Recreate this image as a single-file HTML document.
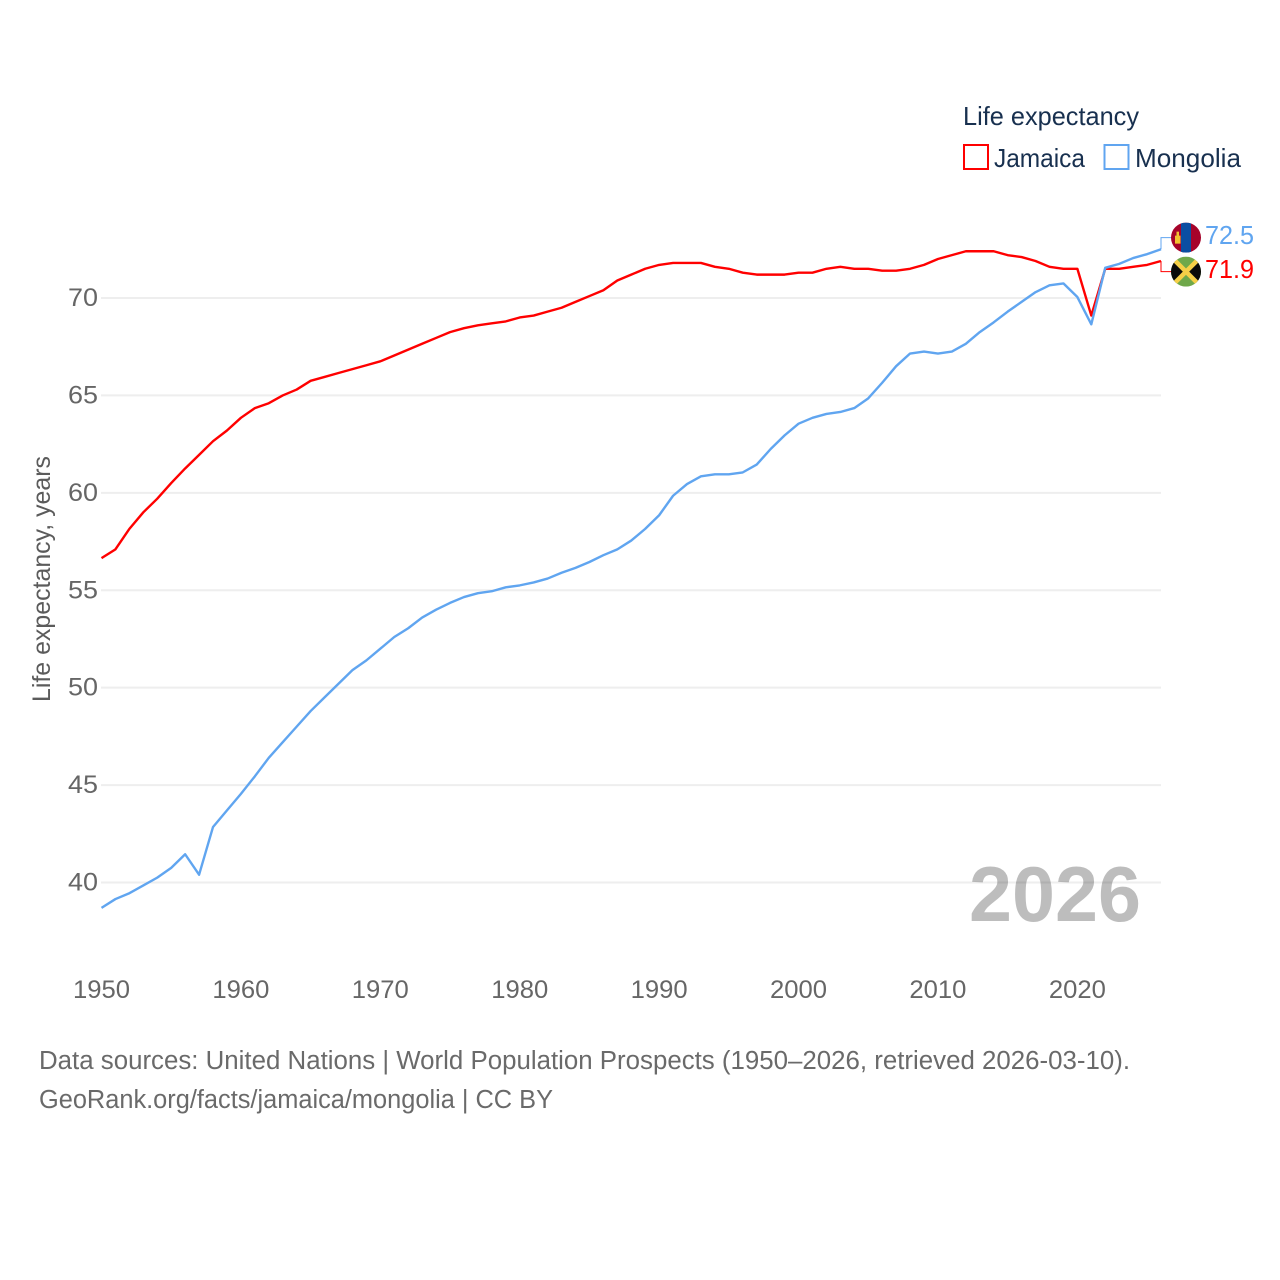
<!DOCTYPE html>
<html>
<head>
<meta charset="utf-8">
<title>Life expectancy: Jamaica vs Mongolia</title>
<style>
html,body{margin:0;padding:0;background:#fff;}
svg{display:block;}
text{font-family:"Liberation Sans",sans-serif;}
</style>
</head>
<body>
<svg id="chart" xmlns="http://www.w3.org/2000/svg" width="1280" height="1280" viewBox="0 0 1280 1280">
  <rect x="0" y="0" width="1280" height="1280" fill="#fff"/>
  <g id="grid"></g>
  <g id="ylabels"></g>
  <g id="xlabels"></g>
  <text transform="translate(50,702) rotate(-90)" font-size="25" fill="#5b5b5b" textLength="246" lengthAdjust="spacingAndGlyphs">Life expectancy, years</text>
  <text x="969" y="921" font-size="78" font-weight="bold" fill="#000" fill-opacity="0.26" textLength="172" lengthAdjust="spacingAndGlyphs">2026</text>
  <g id="series"></g>
  <g id="ends"></g>

  <g>
    <text x="963" y="125" font-size="26" fill="#18304f" textLength="176" lengthAdjust="spacingAndGlyphs">Life expectancy</text>
    <g>
      <rect x="964" y="145" width="24" height="24" fill="#fff" stroke="#ff0000" stroke-width="2"/>
      <text x="994" y="167" font-size="26" fill="#18304f" textLength="91" lengthAdjust="spacingAndGlyphs">Jamaica</text>
    </g>
    <g>
      <rect x="1104.5" y="145" width="24" height="24" fill="#fff" stroke="#60a5f0" stroke-width="2"/>
      <text x="1135" y="167" font-size="26" fill="#18304f" textLength="106" lengthAdjust="spacingAndGlyphs">Mongolia</text>
    </g>
  </g>

  <text x="39" y="1069" font-size="25.5" fill="#6a6a6a" textLength="1091" lengthAdjust="spacingAndGlyphs">Data sources: United Nations | World Population Prospects (1950–2026, retrieved 2026-03-10).</text>
  <text x="39" y="1108" font-size="25.5" fill="#6a6a6a" textLength="514" lengthAdjust="spacingAndGlyphs">GeoRank.org/facts/jamaica/mongolia | CC BY</text>
</svg>

<script>
var years = [];
for (var yr = 1950; yr <= 2026; yr++) { years.push(yr); }

var jamaicaValues = [
  56.65,57.1,58.15,59.0,59.7,60.5,61.25,61.95,62.65,63.2,
  63.85,64.35,64.6,65.0,65.3,65.75,65.95,66.15,66.35,66.55,
  66.75,67.05,67.35,67.65,67.95,68.25,68.45,68.6,68.7,68.8,
  69.0,69.1,69.3,69.5,69.8,70.1,70.4,70.9,71.2,71.5,
  71.7,71.8,71.8,71.8,71.6,71.5,71.3,71.2,71.2,71.2,
  71.3,71.3,71.5,71.6,71.5,71.5,71.4,71.4,71.5,71.7,
  72.0,72.2,72.4,72.4,72.4,72.2,72.1,71.9,71.6,71.5,
  71.5,69.1,71.5,71.5,71.6,71.7,71.9
];
var mongoliaValues = [
  38.7,39.15,39.45,39.85,40.25,40.75,41.45,40.4,42.85,43.7,
  44.55,45.45,46.4,47.2,48.0,48.8,49.5,50.2,50.9,51.4,
  52.0,52.6,53.05,53.6,54.0,54.35,54.65,54.85,54.95,55.15,
  55.25,55.4,55.6,55.9,56.15,56.45,56.8,57.1,57.55,58.15,
  58.85,59.85,60.45,60.85,60.95,60.95,61.05,61.45,62.25,62.95,
  63.55,63.85,64.05,64.15,64.35,64.85,65.65,66.5,67.15,67.25,
  67.15,67.25,67.65,68.25,68.75,69.3,69.8,70.3,70.65,70.75,
  70.05,68.65,71.55,71.75,72.05,72.25,72.5
];
var yTicks = [40,45,50,55,60,65,70];
var xTicks = [1950,1960,1970,1980,1990,2000,2010,2020];
var jamaicaEndLabel = '71.9';
var mongoliaEndLabel = '72.5';

var NS = 'http://www.w3.org/2000/svg';
var PLOT_LEFT = 101.5, PLOT_RIGHT = 1161;
function xScale(year) { return PLOT_LEFT + (year - 1950) * (PLOT_RIGHT - PLOT_LEFT) / 76; }
function yScale(value) { return 882.5 - (value - 40) * (882.5 - 298) / 30; }
function make(tag, attrs, parent) {
  var el = document.createElementNS(NS, tag);
  for (var k in attrs) { el.setAttribute(k, attrs[k]); }
  parent.appendChild(el);
  return el;
}
function linePath(values) {
  var d = '';
  for (var i = 0; i < values.length; i++) {
    d += (i ? 'L' : 'M') + xScale(years[i]).toFixed(2) + ' ' + yScale(values[i]).toFixed(2);
  }
  return d;
}

var gridG = document.getElementById('grid');
var yG = document.getElementById('ylabels');
yTicks.forEach(function (t) {
  var gl = make('line', {x1: 101, x2: PLOT_RIGHT, y1: yScale(t), y2: yScale(t), stroke: '#eeeeee', 'stroke-width': 2}, gridG);
  
  
  var tl = make('text', {x: 68, y: yScale(t) + 8, 'font-size': 25, fill: '#666666', textLength: 30, lengthAdjust: 'spacingAndGlyphs'}, yG);
  
  
  tl.textContent = String(t);
});

var xG = document.getElementById('xlabels');
xTicks.forEach(function (t) {
  var tl = make('text', {x: xScale(t) - 28.5, y: 998, 'font-size': 25, fill: '#666666', textLength: 57, lengthAdjust: 'spacingAndGlyphs'}, xG);
  
  
  tl.textContent = String(t);
});

var seriesG = document.getElementById('series');
var jamaicaLine = make('path', {d: linePath(jamaicaValues), fill: 'none', stroke: '#ff0000', 'stroke-width': 2.4, 'stroke-linejoin': 'round'}, seriesG);


var mongoliaLine = make('path', {d: linePath(mongoliaValues), fill: 'none', stroke: '#60a5f0', 'stroke-width': 2.4, 'stroke-linejoin': 'round'}, seriesG);



var endsG = document.getElementById('ends');
var jamaicaEndY = yScale(jamaicaValues[jamaicaValues.length - 1]);
var mongoliaEndY = yScale(mongoliaValues[mongoliaValues.length - 1]);
var midY = (jamaicaEndY + mongoliaEndY) / 2 - 0.5;
var mongoliaFlagY = midY - 17;
var jamaicaFlagY = midY + 17;
var FLAG_X = 1186, FLAG_R = 15;

var mongoliaConn = make('path', {d: 'M' + PLOT_RIGHT + ' ' + mongoliaEndY + 'V' + mongoliaFlagY + 'H' + (FLAG_X - FLAG_R), fill: 'none', stroke: '#60a5f0', 'stroke-width': 1}, endsG);


var jamaicaConn = make('path', {d: 'M' + PLOT_RIGHT + ' ' + jamaicaEndY + 'V' + jamaicaFlagY + 'H' + (FLAG_X - FLAG_R), fill: 'none', stroke: '#ff0000', 'stroke-width': 1}, endsG);



var clipDefs = make('defs', {}, endsG);
var clipM = make('clipPath', {id: 'clip-mn'}, clipDefs);
make('circle', {cx: FLAG_X, cy: mongoliaFlagY, r: FLAG_R}, clipM);
var clipJ = make('clipPath', {id: 'clip-jm'}, clipDefs);
make('circle', {cx: FLAG_X, cy: jamaicaFlagY, r: FLAG_R}, clipJ);

var mnFlag = make('g', {'clip-path': 'url(#clip-mn)'}, endsG);


make('rect', {x: FLAG_X - FLAG_R, y: mongoliaFlagY - FLAG_R, width: 30, height: 30, fill: '#a6032a'}, mnFlag);
make('rect', {x: FLAG_X - 5, y: mongoliaFlagY - FLAG_R, width: 10, height: 30, fill: '#0b4ea2'}, mnFlag);
make('rect', {x: FLAG_X - 11, y: mongoliaFlagY - 2, width: 1.5, height: 8, fill: '#f2c230'}, mnFlag);
make('rect', {x: FLAG_X - 7, y: mongoliaFlagY - 2, width: 1.5, height: 8, fill: '#f2c230'}, mnFlag);
make('rect', {x: FLAG_X - 9.5, y: mongoliaFlagY - 6, width: 2.5, height: 12, fill: '#f2c230'}, mnFlag);
make('rect', {x: FLAG_X - 11, y: mongoliaFlagY + 1, width: 5.5, height: 1.2, fill: '#f2c230'}, mnFlag);

var jmFlag = make('g', {'clip-path': 'url(#clip-jm)'}, endsG);


make('rect', {x: FLAG_X - FLAG_R, y: jamaicaFlagY - FLAG_R, width: 30, height: 30, fill: '#6fa84a'}, jmFlag);
make('path', {d: 'M' + (FLAG_X - FLAG_R) + ' ' + (jamaicaFlagY - FLAG_R) + 'L' + FLAG_X + ' ' + jamaicaFlagY + 'L' + (FLAG_X - FLAG_R) + ' ' + (jamaicaFlagY + FLAG_R) + 'Z', fill: '#0a0a0a'}, jmFlag);
make('path', {d: 'M' + (FLAG_X + FLAG_R) + ' ' + (jamaicaFlagY - FLAG_R) + 'L' + FLAG_X + ' ' + jamaicaFlagY + 'L' + (FLAG_X + FLAG_R) + ' ' + (jamaicaFlagY + FLAG_R) + 'Z', fill: '#0a0a0a'}, jmFlag);
make('path', {d: 'M' + (FLAG_X - FLAG_R) + ' ' + (jamaicaFlagY - FLAG_R) + 'L' + (FLAG_X + FLAG_R) + ' ' + (jamaicaFlagY + FLAG_R) + 'M' + (FLAG_X + FLAG_R) + ' ' + (jamaicaFlagY - FLAG_R) + 'L' + (FLAG_X - FLAG_R) + ' ' + (jamaicaFlagY + FLAG_R), stroke: '#f5cf47', 'stroke-width': 4.5, fill: 'none'}, jmFlag);

var mongoliaValueText = make('text', {x: 1205, y: mongoliaFlagY + 6.5, 'font-size': 26, fill: '#60a5f0', textLength: 49, lengthAdjust: 'spacingAndGlyphs'}, endsG);


mongoliaValueText.textContent = mongoliaEndLabel;
var jamaicaValueText = make('text', {x: 1205, y: jamaicaFlagY + 6.5, 'font-size': 26, fill: '#ff0000', textLength: 49, lengthAdjust: 'spacingAndGlyphs'}, endsG);


jamaicaValueText.textContent = jamaicaEndLabel;
</script>
</body>
</html>
